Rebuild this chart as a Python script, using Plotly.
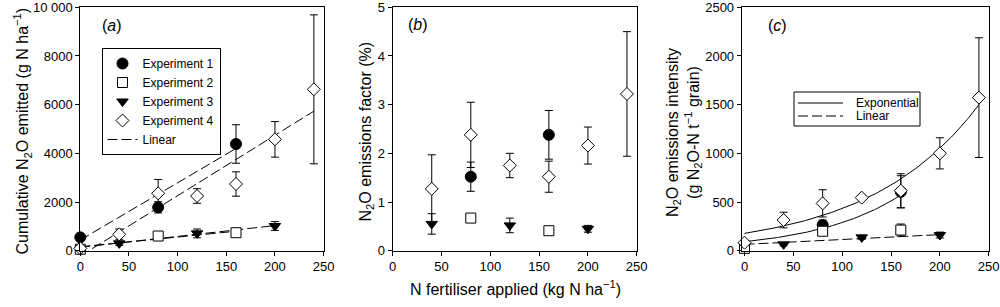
import numpy as np
import plotly.graph_objects as go

# ---------------- data ----------------
# Panel (a): cumulative N2O emitted (g N/ha)
exp1_ax = [0, 80, 160]
exp1_a = [548, 1781, 4384]
exp1_a_err = [60, 230, 790]
exp2_ax = [0, 80, 160]
exp2_a = [60, 603, 740]
exp2_a_err = [20, 60, 80]
exp3_ax = [40, 120, 200]
exp3_a = [301, 712, 1014]
exp3_a_err = [80, 180, 180]
exp4_ax = [0, 40, 80, 120, 160, 200, 240]
exp4_a = [96, 671, 2356, 2247, 2740, 4575, 6630]
exp4_a_err = [40, 220, 570, 300, 500, 730, 3060]

# linear fits for panel (a): intercept, slope, x end
lin_a_names = ["Exp1", "Exp2", "Exp3", "Exp4"]
lin_a_intercept = [440, 161, 141, -220]
lin_a_slope = [23.5, 4.0, 4.46, 24.8]
lin_a_xmax = [160, 160, 200, 240]

# Panel (b): emissions factor (%)
exp1_bx = [80, 160]
exp1_b = [1.52, 2.38]
exp1_b_err = [0.30, 0.50]
exp2_bx = [80, 160]
exp2_b = [0.67, 0.41]
exp2_b_err = [0.03, 0.03]
exp3_bx = [40, 120, 200]
exp3_b = [0.55, 0.52, 0.45]
exp3_b_err = [0.21, 0.15, 0.07]
exp4_bx = [40, 80, 120, 160, 200, 240]
exp4_b = [1.27, 2.38, 1.75, 1.52, 2.16, 3.22]
exp4_b_err = [0.70, 0.67, 0.25, 0.32, 0.38, 1.28]

# Panel (c): emissions intensity (g N2O-N / t grain)
exp1_cx = [80, 160]
exp1_c = [264, 605]
exp1_c_err = [50, 165]
exp2_cx = [0, 80, 160]
exp2_c = [24, 200, 212]
exp2_c_err = [10, 30, 62]
exp3_cx = [40, 120, 200]
exp3_c = [65, 137, 161]
exp3_c_err = [15, 20, 30]
exp4_cx = [0, 40, 80, 120, 160, 200, 240]
exp4_c = [82, 315, 486, 545, 616, 1000, 1572]
exp4_c_err = [20, 80, 140, 25, 175, 160, 615]

# exponential fits for panel (c): a*exp(k*x)
exp_c_a = [178, 92]
exp_c_k = [0.00888, 0.01142]
exp_c_xmax = [240, 160]
# linear fit for panel (c)
lin_c_intercept = 65
lin_c_slope = 0.5
lin_c_xmax = 200

a_yticks = [0, 2000, 4000, 6000, 8000, 10000]
a_yticktext = ["0", "2000", "4000", "6000", "8000", "10 000"]
b_yticks = [0, 1, 2, 3, 4, 5]
c_yticks = [0, 500, 1000, 1500, 2000, 2500]
x_ticks = [0, 50, 100, 150, 200, 250]
legend_c_labels = ["Exponential", "Linear"]

# ---------------- figure ----------------
FONT = "Liberation Sans, Arial, sans-serif"
W, H = 1000, 307


def px_x(v):
    return v / W


def px_y(v):
    return 1 - v / H


fig = go.Figure()

DASH = "10px,4px"
LINE = dict(color="black", width=1, dash=DASH)

styles = {
    1: dict(symbol="circle", size=11, color="black", line=dict(color="black", width=1)),
    2: dict(symbol="square", size=10, color="white", line=dict(color="black", width=1)),
    3: dict(symbol="triangle-down", size=10, color="black", line=dict(color="black", width=1)),
    4: dict(symbol="diamond", size=10, color="white", line=dict(color="black", width=1)),
}


def err(vals):
    return dict(type="data", array=vals, color="black", thickness=1, width=4, visible=True)


# ---- panel a lines
for i in range(4):
    xs = np.linspace(0, lin_a_xmax[i], 50)
    ys = lin_a_intercept[i] + lin_a_slope[i] * xs
    fig.add_trace(go.Scatter(x=xs, y=ys, mode="lines", line=LINE, xaxis="x", yaxis="y",
                             name="Linear", showlegend=(i == 3), legendrank=5))

# ---- panel c lines
for i in range(2):
    xs = np.linspace(0, exp_c_xmax[i], 120)
    ys = exp_c_a[i] * np.exp(exp_c_k[i] * xs)
    fig.add_trace(go.Scatter(x=xs, y=ys, mode="lines", line=dict(color="black", width=1),
                             xaxis="x3", yaxis="y3", name="Exponential", showlegend=False))
xs = np.linspace(0, lin_c_xmax, 50)
fig.add_trace(go.Scatter(x=xs, y=lin_c_intercept + lin_c_slope * xs, mode="lines", line=LINE,
                         xaxis="x3", yaxis="y3", name="Linear", showlegend=False))

panels = [
    ("x", "y", [(exp1_ax, exp1_a, exp1_a_err), (exp2_ax, exp2_a, exp2_a_err),
                (exp3_ax, exp3_a, exp3_a_err), (exp4_ax, exp4_a, exp4_a_err)]),
    ("x2", "y2", [(exp1_bx, exp1_b, exp1_b_err), (exp2_bx, exp2_b, exp2_b_err),
                  (exp3_bx, exp3_b, exp3_b_err), (exp4_bx, exp4_b, exp4_b_err)]),
    ("x3", "y3", [(exp1_cx, exp1_c, exp1_c_err), (exp2_cx, exp2_c, exp2_c_err),
                  (exp3_cx, exp3_c, exp3_c_err), (exp4_cx, exp4_c, exp4_c_err)]),
]
for pi, (xa, ya, series) in enumerate(panels):
    for k, (xv, yv, ev) in enumerate(series, start=1):
        fig.add_trace(go.Scatter(x=xv, y=yv, mode="markers", marker=styles[k], error_y=err(ev),
                                 xaxis=xa, yaxis=ya, name=f"Experiment {k}",
                                 showlegend=(pi == 0), legendrank=k, cliponaxis=False))

YD = [px_y(250.7), px_y(7.3)]
axis_common = dict(showline=True, linecolor="black", linewidth=1, mirror=True,
                   ticks="outside", ticklen=4, tickcolor="black", tickwidth=1,
                   showgrid=False, zeroline=False, automargin=False,
                   ticklabeloverflow="allow",
                   tickfont=dict(family=FONT, size=13, color="black"))

fig.update_layout(
    width=W, height=H,
    margin=dict(l=0, r=0, t=0, b=0),
    paper_bgcolor="white", plot_bgcolor="white",
    font=dict(family=FONT, color="black"),
    hovermode=False,
    xaxis=dict(domain=[px_x(80.3), px_x(323.6)], range=[0, 250], tickvals=x_ticks, anchor="y",
               **axis_common),
    yaxis=dict(domain=YD, range=[0, 10000], tickvals=a_yticks, ticktext=a_yticktext,
               anchor="x", **axis_common),
    xaxis2=dict(domain=[px_x(392.7), px_x(636.7)], range=[0, 250], tickvals=x_ticks, anchor="y2",
                **axis_common),
    yaxis2=dict(domain=YD, range=[0, 5], tickvals=b_yticks, anchor="x2", **axis_common),
    xaxis3=dict(domain=[px_x(741.7), px_x(988.7)], range=[-2.9, 250], tickvals=x_ticks,
                anchor="y3", **axis_common),
    yaxis3=dict(domain=YD, range=[0, 2500], tickvals=c_yticks, anchor="x3", **axis_common),
    legend=dict(x=px_x(101.5), y=px_y(48), xanchor="left", yanchor="top",
                bgcolor="white", bordercolor="black", borderwidth=1,
                font=dict(family=FONT, size=12, color="black"),
                traceorder="normal", tracegroupgap=0),
    showlegend=True,
)

# ---- legend of panel (c), drawn as a box with sample lines and labels
fig.add_shape(type="rect", xref="paper", yref="paper", x0=px_x(794), x1=px_x(920),
              y0=px_y(126), y1=px_y(92), line=dict(color="black", width=1),
              fillcolor="white", layer="above")
leg_rows_y = [103, 116]
leg_dash = ["solid", DASH]
for lab, yy, dsh in zip(legend_c_labels, leg_rows_y, leg_dash):
    fig.add_shape(type="line", xref="paper", yref="paper", x0=px_x(798), x1=px_x(843),
                  y0=px_y(yy), y1=px_y(yy), line=dict(color="black", width=1, dash=dsh),
                  layer="above")
    fig.add_annotation(xref="paper", yref="paper", x=px_x(854), y=px_y(yy), text=lab,
                       showarrow=False, xanchor="left", yanchor="middle",
                       font=dict(family=FONT, size=12, color="black"))

TF = dict(family=FONT, size=16, color="black")
ann = [
    dict(x=px_x(22), y=px_y(131.5), text="Cumulative N<sub>2</sub>O emitted (g N ha<sup>−1</sup>)",
         textangle=-90),
    dict(x=px_x(366), y=px_y(131.5), text="N<sub>2</sub>O emissions factor (%)", textangle=-90),
    dict(x=px_x(684), y=px_y(133),
         text="N<sub>2</sub>O emissions intensity<br>(g N<sub>2</sub>O-N t<sup>−1</sup> grain)",
         textangle=-90),
    dict(x=px_x(515), y=px_y(288), text="N fertiliser applied (kg N ha<sup>−1</sup>)"),
    dict(x=px_x(112), y=px_y(25), text="(<i>a</i>)"),
    dict(x=px_x(418), y=px_y(24), text="(<i>b</i>)"),
    dict(x=px_x(777), y=px_y(25), text="(<i>c</i>)"),
]
for a in ann:
    fig.add_annotation(xref="paper", yref="paper", showarrow=False, xanchor="center",
                       yanchor="middle", font=TF, **a)

# the page's default 8px body margin would shift the 1000x307 figure out of the window
fig.write_html("out.html", config={"displayModeBar": False, "staticPlot": True},
               post_script="document.body.style.margin='0px';")
